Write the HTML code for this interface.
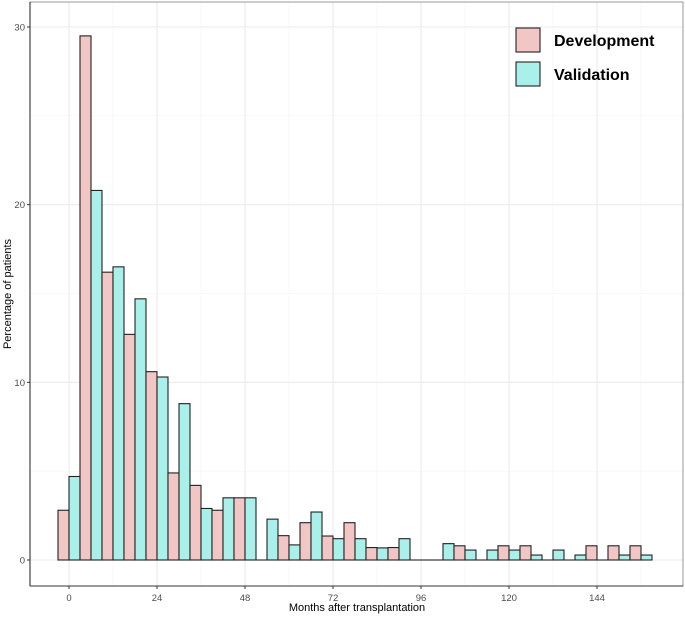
<!DOCTYPE html>
<html><head><meta charset="utf-8"><style>
body{margin:0;background:#fff;font-family:"Liberation Sans",sans-serif}
</style></head><body>
<svg id="c" width="685" height="614" xmlns="http://www.w3.org/2000/svg"></svg>
<script>
const bins=[0,6,12,18,24,30,36,42,48,54,60,66,72,78,84,90,96,102,108,114,120,126,132,138,144,150,156];
const devValues=[2.8,29.5,16.2,12.7,10.6,4.9,4.2,2.8,3.5,0,1.37,2.1,1.35,2.1,0.7,0.7,0,0,0.8,0,0.8,0.8,0,0,0.8,0.8,0.8];
const valValues=[4.7,20.8,16.5,14.7,10.3,8.8,2.9,3.5,3.5,2.3,0.85,2.7,1.2,1.2,0.68,1.2,0,0.92,0.56,0.56,0.56,0.28,0.56,0.28,0,0.28,0.28];
const xTicks=[0,24,48,72,96,120,144];
const yTicks=[0,10,20,30];
const NS="http://www.w3.org/2000/svg";
const svg=document.getElementById('c');
const L=30,R=683,T=2,B=586;
const xs=m=>69+m*(597-69)/144;
const ys=v=>560-v*(560-27)/30;
function el(t,a,p){const e=document.createElementNS(NS,t);for(const k in a)e.setAttribute(k,a[k]);(p||svg).appendChild(e);return e;}
const g=el('g',{});
for(let i=0;i<xTicks.length;i++){const m=xTicks[i];el('line',{x1:xs(m),x2:xs(m),y1:T,y2:B,stroke:'#ebebeb','stroke-width':1.1},g);el('line',{x1:xs(m+12),x2:xs(m+12),y1:T,y2:B,stroke:'#f4f4f4','stroke-width':0.6},g);}
el('line',{x1:xs(-12),x2:xs(-12),y1:T,y2:B,stroke:'#f4f4f4','stroke-width':0.6},g);
for(const v of yTicks){el('line',{x1:L,x2:R,y1:ys(v),y2:ys(v),stroke:'#ebebeb','stroke-width':1.1},g);el('line',{x1:L,x2:R,y1:ys(v+5),y2:ys(v+5),stroke:'#f4f4f4','stroke-width':0.6},g);}
const bw=xs(3)-xs(0);
function bar(x,v,fill,name){
 let e;
 if(v>0) e=el('rect',{x:x,y:ys(v),width:bw,height:ys(0)-ys(v),fill:fill,stroke:'#222','stroke-width':1.1});
 else e=el('line',{x1:x,x2:x+bw,y1:ys(0),y2:ys(0),stroke:'#222','stroke-width':1.1});
 
 
}
for(let i=0;i<bins.length;i++){
 bar(xs(bins[i])-bw,devValues[i],'#f2c6c4','bar-development-'+bins[i]);
 bar(xs(bins[i]),valValues[i],'#a9f0ea','bar-validation-'+bins[i]);
}
el('rect',{x:L,y:T,width:R-L,height:B-T,fill:'none',stroke:'#999','stroke-width':1});
el('line',{x1:L,x2:L,y1:T,y2:B,stroke:'#333','stroke-width':1.1});
el('line',{x1:L,x2:R,y1:B,y2:B,stroke:'#333','stroke-width':1.1});
for(const m of xTicks){el('line',{x1:xs(m),x2:xs(m),y1:B,y2:B+3,stroke:'#333'});const t=el('text',{x:xs(m),y:B+15,'text-anchor':'middle','font-size':9.5,fill:'#4d4d4d'});t.textContent=m;}
for(const v of yTicks){el('line',{x1:L-3,x2:L,y1:ys(v),y2:ys(v),stroke:'#333'});const t=el('text',{x:L-5,y:ys(v)+3.5,'text-anchor':'end','font-size':9.5,fill:'#4d4d4d'});t.textContent=v;}
let t=el('text',{x:357,y:611,'text-anchor':'middle','font-size':11,fill:'#000'});t.textContent='Months after transplantation';

t=el('text',{x:11,y:294,'text-anchor':'middle','font-size':11,fill:'#000',transform:'rotate(-90 11 294)'});t.textContent='Percentage of patients';

const lg=el('g',{});
const items=[['Development','#f2c6c4',28],['Validation','#a9f0ea',62]];
for(const [n,c,y] of items){const r=el('rect',{x:516,y:y,width:24,height:24,fill:c,stroke:'#222','stroke-width':1.1},lg);
const tx=el('text',{x:554,y:y+18,'font-size':16,'font-weight':'bold',fill:'#000'},lg);tx.textContent=n;}
</script>
</body></html>
